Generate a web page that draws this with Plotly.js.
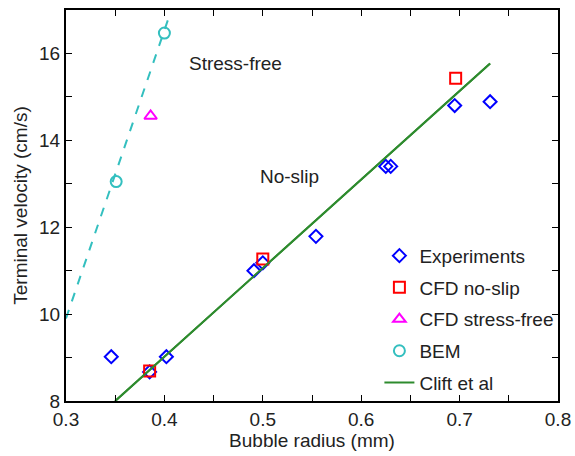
<!DOCTYPE html>
<html>
<head>
<meta charset="utf-8">
<script src="https://cdn.plot.ly/plotly-3.0.1.min.js"></script>
<style>html,body{margin:0;padding:0;background:#fff;}#chart{width:575px;height:456px;}</style>
</head>
<body>
<div id="chart"></div>
<script>
// Experiments
const expX = [0.346, 0.385, 0.402, 0.491, 0.500, 0.554, 0.625, 0.630, 0.695, 0.731];
const expY = [9.02, 8.67, 9.02, 11.00, 11.18, 11.79, 13.40, 13.40, 14.80, 14.89];
// CFD no-slip
const cfdNsX = [0.385, 0.500, 0.696];
const cfdNsY = [8.69, 11.27, 15.43];
// CFD stress-free
const cfdSfX = [0.386];
const cfdSfY = [14.56];
// BEM
const bemX = [0.351, 0.400];
const bemY = [13.05, 16.47];
// BEM dashed fit line
const bemLineX = [0.300, 0.404];
const bemLineY = [9.90, 16.80];
// Clift et al
const cliftX = [0.350, 0.731];
const cliftY = [8.00, 15.77];

const font = "Liberation Sans, Arial, Helvetica, sans-serif";
const txt = '#222';

const traces = [
  {x: bemLineX, y: bemLineY, mode: 'lines', line: {color: '#33bfbf', width: 2, dash: 'dash'}, showlegend: false, hoverinfo: 'skip'},
  {x: cliftX, y: cliftY, mode: 'lines', line: {color: '#2e8b2e', width: 2}, showlegend: false, hoverinfo: 'skip'},
  {x: expX, y: expY, mode: 'markers', name: 'Experiments', legendgroup: 'a',
   marker: {symbol: 'diamond-open', size: 10, color: '#0000ff', line: {width: 2, color: '#0000ff'}}},
  {x: cfdNsX, y: cfdNsY, mode: 'markers', name: 'CFD no-slip', legendgroup: 'b',
   marker: {symbol: 'square-open', size: 11, color: '#ff0000', line: {width: 2, color: '#ff0000'}}},
  {x: cfdSfX, y: cfdSfY, mode: 'markers', name: 'CFD stress-free', legendgroup: 'c',
   marker: {symbol: 'triangle-up-open', size: 11, color: '#ff00ff', line: {width: 2, color: '#ff00ff'}}},
  {x: bemX, y: bemY, mode: 'markers', name: 'BEM', legendgroup: 'd',
   marker: {symbol: 'circle-open', size: 11, color: '#33bfbf', line: {width: 2, color: '#33bfbf'}}},
  {x: cliftX, y: cliftY, mode: 'lines', name: 'Clift et al', legendgroup: 'e',
   line: {color: '#2e8b2e', width: 2}, hoverinfo: 'skip'}
];

const axisCommon = {
  showgrid: false, zeroline: false, showline: true, linecolor: '#000', linewidth: 2,
  mirror: 'ticks', ticks: 'inside', ticklen: 6, tickwidth: 1, tickcolor: '#000',
  tickfont: {family: font, size: 19, color: txt},
};

const layout = {
  width: 575, height: 456,
  margin: {l: 66, r: 17, t: 10, b: 55},
  paper_bgcolor: '#fff', plot_bgcolor: '#fff',
  font: {family: font, size: 19, color: txt},
  xaxis: Object.assign({}, axisCommon, {
    range: [0.3, 0.8], dtick: 0.1, tick0: 0.3, tickformat: '.1f',
    minor: {dtick: 0.05, ticks: 'inside', ticklen: 6, tickcolor: '#000'},
    title: {text: 'Bubble radius (mm)', font: {family: font, size: 19, color: txt}, standoff: 0}
  }),
  yaxis: Object.assign({}, axisCommon, {
    range: [8, 17], dtick: 2, tick0: 8,
    minor: {dtick: 1, ticks: 'inside', ticklen: 6, tickcolor: '#000'},
    title: {text: 'Terminal velocity (cm/s)', font: {family: font, size: 19, color: txt}, standoff: 6}
  }),
  legend: {
    x: 0.637, y: 0.42, xanchor: 'left', yanchor: 'top',
    bgcolor: 'rgba(255,255,255,0)', borderwidth: 0,
    font: {family: font, size: 19, color: txt},
    traceorder: 'grouped', tracegroupgap: 4, itemwidth: 30
  },
  annotations: [
    {x: 0.472, y: 15.78, xref: 'x', yref: 'y', text: 'Stress-free', showarrow: false, font: {family: font, size: 19, color: txt}},
    {x: 0.527, y: 13.16, xref: 'x', yref: 'y', text: 'No-slip', showarrow: false, font: {family: font, size: 19, color: txt}}
  ],
  showlegend: true
};

Plotly.newPlot('chart', traces, layout, {displayModeBar: false, staticPlot: true});
</script>
</body>
</html>
